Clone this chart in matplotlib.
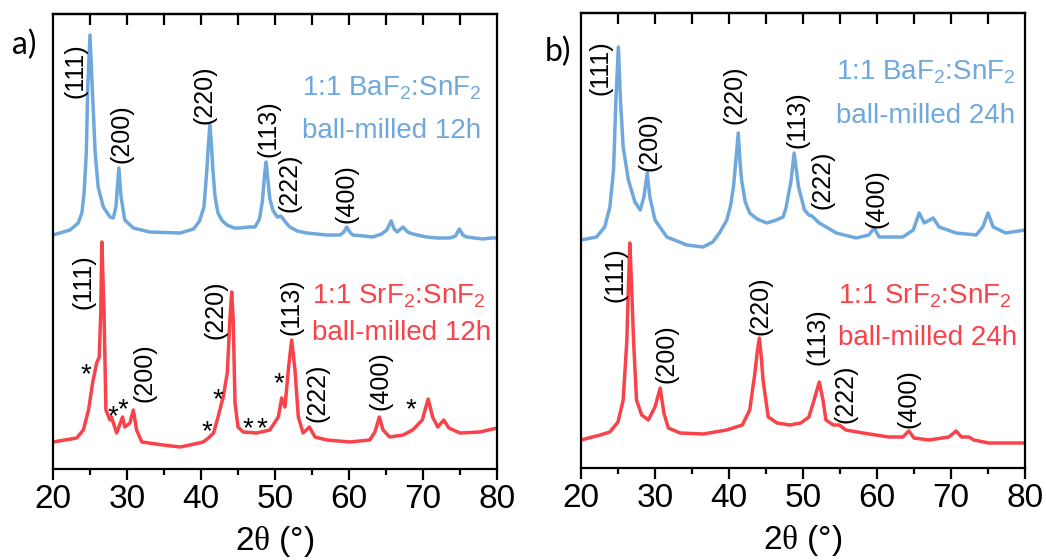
import matplotlib
matplotlib.use("Agg")
import matplotlib.pyplot as plt
from matplotlib.ticker import MultipleLocator

plt.rcParams['font.family'] = ['Liberation Sans', 'DejaVu Sans']
plt.rcParams['mathtext.fontset'] = 'custom'
plt.rcParams['mathtext.rm'] = 'Liberation Sans'
plt.rcParams['mathtext.cal'] = 'Liberation Serif'
plt.rcParams['mathtext.default'] = 'regular'

BLUE = '#6fa8dc'
RED = '#fa424a'

# 2theta (deg) and intensity (a.u., stacked)
ba12_tth = [20.0, 22.3, 23.4, 23.9, 24.2, 24.5, 24.7, 25.0, 25.3, 25.7, 26.1, 26.8, 27.7, 28.15,
            28.5, 28.9, 29.2, 29.7, 30.85, 33.1, 37.2, 39.0, 39.8, 40.4, 40.8, 41.0, 41.2, 41.4,
            41.6, 41.9, 42.3, 42.8, 43.5, 44.5, 45.3, 46.5, 47.3, 47.9, 48.3, 48.6, 48.8, 49.0,
            49.3, 49.7, 50.3, 50.8, 51.3, 52.0, 53.0, 54.3, 57.0, 58.8, 59.3, 59.7, 60.1, 60.5,
            62.0, 63.2, 64.4, 65.1, 65.7, 66.1, 66.5, 67.3, 67.8, 68.2, 69.2, 70.5, 72.0, 73.6,
            74.4, 74.9, 75.4, 75.9, 77.0, 78.1, 79.2, 80.0]
ba12_int = [234, 239, 246, 256, 276, 316, 382, 434, 382, 316, 282, 262, 252, 251,
            262, 301, 272, 249, 241, 237, 236, 240, 248, 262, 300, 325, 344, 325,
            300, 272, 256, 249, 244, 241, 241, 242, 242, 250, 268, 295, 307, 292,
            270, 259, 252, 253, 248, 242, 238, 236, 234, 234, 237, 242, 237, 234,
            233, 232, 235, 239, 248, 240, 237, 242, 238, 236, 234, 232, 231, 231,
            233, 240, 234, 232, 231, 230, 231, 231]

sr12_tth = [20.0, 23.2, 24.1, 24.8, 25.35, 25.9, 26.25, 26.45, 26.6, 26.9, 27.15, 27.7, 27.9,
            28.6, 29.4, 29.7, 30.4, 30.85, 31.3, 32.0, 34.9, 37.2, 38.5, 40.3, 41.0, 41.7,
            42.3, 43.0, 43.55, 43.9, 44.15, 44.35, 44.6, 45.0, 45.7, 47.5, 49.3, 50.45, 50.9,
            51.35, 51.8, 52.25, 52.7, 53.15, 53.8, 54.65, 55.4, 57.0, 60.1, 62.8, 63.5, 64.1,
            64.6, 65.5, 67.3, 68.6, 69.9, 70.7, 71.3, 72.0, 72.8, 73.5, 75.0, 77.7, 80.0]
sr12_int = [27, 31, 39, 59, 86, 106, 112, 156, 227, 156, 59, 49, 52,
            36, 52, 42, 46, 59, 39, 27, 24, 22, 24, 27, 31, 36,
            52, 72, 96, 149, 177, 149, 66, 42, 37, 36, 39, 52, 71,
            62, 99, 129, 99, 52, 36, 42, 32, 29, 27, 29, 37, 52,
            39, 32, 34, 39, 49, 70, 52, 42, 49, 41, 36, 37, 41]

ba24_tth = [20.0, 22.1, 23.2, 23.9, 24.4, 24.7, 25.05, 25.35, 25.7, 26.4, 27.3, 28.0, 28.5,
            28.95, 29.3, 30.0, 31.6, 34.3, 36.5, 37.8, 38.8, 39.7, 40.2, 40.6, 40.9, 41.25,
            41.5, 41.7, 42.2, 42.8, 43.8, 45.1, 46.4, 47.3, 47.7, 48.4, 48.8, 49.4, 50.2,
            50.8, 51.2, 52.2, 54.5, 57.2, 58.9, 59.6, 60.3, 63.5, 64.9, 65.7, 66.4, 67.6,
            68.4, 70.7, 73.4, 74.3, 75.0, 75.7, 77.4, 80.0]
ba24_int = [228, 231, 241, 261, 298, 365, 421, 365, 321, 288, 266, 258, 271,
            295, 271, 248, 231, 223, 221, 226, 236, 248, 262, 281, 305, 335,
            305, 288, 266, 255, 249, 245, 248, 251, 260, 288, 315, 281, 258,
            253, 252, 245, 235, 230, 233, 240, 231, 231, 238, 255, 245, 250,
            241, 235, 233, 241, 255, 241, 235, 238]

sr24_tth = [20.0, 22.6, 23.9, 25.0, 25.7, 26.2, 26.4, 26.6, 26.85, 27.1, 27.5, 28.2, 29.1,
            30.0, 30.7, 31.2, 31.8, 33.4, 36.5, 39.7, 41.8, 42.8, 43.5, 43.8, 44.1, 44.35,
            44.6, 45.3, 46.5, 48.2, 49.7, 50.8, 51.5, 52.2, 52.7, 53.1, 54.1, 54.9, 55.8,
            58.1, 61.6, 63.5, 64.3, 65.0, 67.0, 69.7, 70.7, 71.4, 72.4, 73.1, 75.1, 80.0]
sr24_int = [28, 33, 36, 46, 68, 128, 180, 225, 180, 128, 68, 53, 48,
            61, 80, 55, 40, 35, 34, 38, 43, 58, 95, 115, 130, 112,
            88, 51, 45, 43, 45, 51, 68, 86, 68, 48, 43, 43, 38,
            35, 31, 31, 37, 30, 28, 31, 37, 31, 31, 28, 25, 25]

hkl = ['(111)', '(200)', '(220)', '(113)', '(222)', '(400)']
samples = ['1:1 BaF$_2$:SnF$_2$', '1:1 SrF$_2$:SnF$_2$']

# label centre positions (2theta, a.u.)
hkl_pos = {
    'a_top': [(23.1, 398), (29.3, 335), (40.5, 374), (49.1, 340), (51.9, 286), (59.7, 275)],
    'a_bot': [(24.1, 187), (32.3, 96), (42.0, 159), (52.2, 162), (55.7, 76), (64.3, 88)],
    'b_top': [(22.7, 400), (29.2, 326), (40.7, 373), (49.2, 348), (52.7, 288), (59.9, 269)],
    'b_bot': [(24.7, 193), (31.5, 114), (44.2, 162), (52.0, 131), (55.8, 74), (64.3, 69)],
}
star_tth = [24.5, 28.1, 29.4, 40.8, 42.3, 46.3, 48.2, 50.5, 68.4]
star_int = [101, 59, 66, 44, 76, 47, 47, 92, 66]


def setup_axes(ax):
    ax.set_xlim(20, 80)
    ax.set_ylim(0, 455)
    ax.set_yticks([])
    for sp in ax.spines.values():
        sp.set_linewidth(1.6)
    ax.xaxis.set_major_locator(MultipleLocator(10))
    ax.xaxis.set_minor_locator(MultipleLocator(5))
    ax.tick_params(axis='x', which='major', direction='out', length=8, width=1.6,
                   labelsize=24, pad=3)
    ax.tick_params(axis='x', which='minor', direction='out', length=4, width=1.6)
    top = ax.secondary_xaxis('top')
    top.set_xticks(list(range(25, 80, 5)))
    top.tick_params(direction='in', length=8, width=1.6, labeltop=False)
    top.spines['top'].set_linewidth(1.6)
    ax.set_xlabel('2$\\mathcal{\\theta}$ (°)', fontsize=24, labelpad=6)


def draw_panel(ax, top_x, top_y, bot_x, bot_y, key, hours, lab_top, lab_bot):
    setup_axes(ax)
    ax.plot(top_x, top_y, color=BLUE, lw=2.5)
    ax.plot(bot_x, bot_y, color=RED, lw=2.5)
    for name, (x, y) in zip(hkl, hkl_pos[key + '_top']):
        ax.text(x, y, name, rotation=90, ha='center', va='center', fontsize=18)
    for name, (x, y) in zip(hkl, hkl_pos[key + '_bot']):
        ax.text(x, y, name, rotation=90, ha='center', va='center', fontsize=18)
    tx, ty1, ty2 = lab_top
    ax.text(tx, ty1, samples[0], color=BLUE, fontsize=20, ha='left', va='baseline')
    ax.text(tx, ty2, 'ball-milled ' + hours, color=BLUE, fontsize=20, ha='left', va='baseline')
    bx, by1, by2 = lab_bot
    ax.text(bx, by1, samples[1], color=RED, fontsize=20, ha='left', va='baseline')
    ax.text(bx, by2, 'ball-milled ' + hours, color=RED, fontsize=20, ha='left', va='baseline')


fig = plt.figure(figsize=(10.46, 5.6), dpi=100)
ax_a = fig.add_axes([53 / 1046, 1 - 469 / 560, 444 / 1046, 455 / 560])
ax_b = fig.add_axes([581 / 1046, 1 - 468 / 560, 444 / 1046, 455 / 560])

draw_panel(ax_a, ba12_tth, ba12_int, sr12_tth, sr12_int, 'a', '12h',
           (53.6, 374, 331), (55.0, 166, 129))
draw_panel(ax_b, ba24_tth, ba24_int, sr24_tth, sr24_int, 'b', '24h',
           (54.5, 388, 345), (54.7, 165, 123))

for x, y in zip(star_tth, star_int):
    ax_a.text(x, y - 14, '*', ha='center', va='baseline', fontsize=20)

fig.text(12 / 1046, 1 - 45 / 560, 'a)', fontsize=23, family='Lato', ha='left', va='center')
fig.text(545 / 1046, 1 - 52 / 560, 'b)', fontsize=23, family='Lato', ha='left', va='center')

fig.savefig('out.png', dpi=100)
